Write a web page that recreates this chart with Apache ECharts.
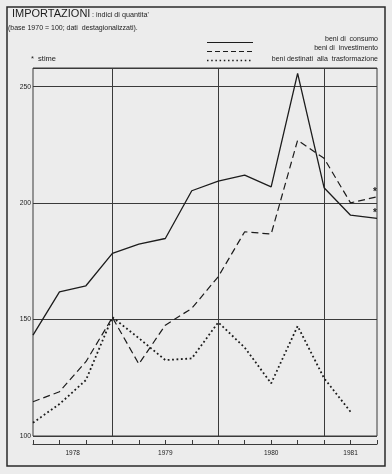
<!DOCTYPE html>
<html>
<head>
<meta charset="utf-8">
<script src="https://cdn.jsdelivr.net/npm/echarts@6/dist/echarts.min.js"></script>
<style>
html,body{margin:0;padding:0;background:#ececec;}
#c{width:392px;height:474px;}
</style>
</head>
<body>
<div id="c"></div>
<script>
// quarterly observations (14 quarters)
var quarters = ['Q1','Q2','Q3','Q4','Q5','Q6','Q7','Q8','Q9','Q10','Q11','Q12','Q13','Q14'];
var beniConsumo = [143.3, 161.9, 164.5, 178.4, 182.4, 184.8, 205.3, 209.4, 212.0, 207.0, 255.7, 206.6, 194.8, 193.4];
var beniInvestimento = [114.7, 119.0, 131.9, 150.9, 130.9, 147.6, 154.8, 168.4, 187.7, 186.7, 227.0, 219.2, 200.1, 202.7];
var beniTrasformazione = [105.7, 113.7, 124.0, 151.0, 142.0, 132.6, 133.3, 148.8, 138.0, 122.6, 147.2, 124.8, 110.4, null];
// estimated (stime) flags
var stimeConsumo = [false,false,false,false,false,false,false,false,false,false,false,false,false,true];
var stimeInvestimento = [false,false,false,false,false,false,false,false,false,false,false,false,false,true];
// year labels and their position on the quarter scale
var yearLabels = ['1978','1979','1980','1981'];
var yearAt = [1.5, 5, 9, 12];
var yTicks = [100, 150, 200, 250];

var halfSteps = [];
for (var i = 0; i <= (quarters.length - 1) * 2; i++) halfSteps.push('');
yearAt.forEach(function (p, k) { halfSteps[Math.round(p * 2)] = yearLabels[k]; });

var ink = '#1c1c1c';
var gridInk = '#3a3a3a';
var font = 'Liberation Sans, Arial, sans-serif';

function withStars(vals, flags) {
  return vals.map(function (v, i) {
    if (flags[i]) {
      return { value: v, label: { show: true, formatter: '*', position: [-4, -10], fontSize: 10, fontWeight: 'bold', color: ink, fontFamily: font } };
    }
    return v;
  });
}

var chart = echarts.init(document.getElementById('c'), null, { renderer: 'canvas' });
chart.setOption({
  backgroundColor: '#ececec',
  animation: false,
  grid: { left: 33, right: 15, top: 68, bottom: 38, show: true, borderColor: gridInk, borderWidth: 1, backgroundColor: 'transparent' },
  xAxis: [
    {
      type: 'category', data: quarters, boundaryGap: false, position: 'bottom', offset: 8,
      axisLine: { show: true, lineStyle: { color: gridInk, width: 1 } },
      axisTick: { show: true, inside: true, length: 4, interval: 0, lineStyle: { color: gridInk } },
      axisLabel: { show: false },
      splitLine: { show: true, interval: function (i) { return i % 4 === 3; }, lineStyle: { color: gridInk, width: 1 } }
    },
    {
      type: 'category', data: halfSteps, boundaryGap: false, position: 'bottom', offset: 8,
      axisLine: { show: false }, axisTick: { show: false },
      axisLabel: { show: true, interval: 0, fontSize: 6.5, color: ink, margin: 6, fontFamily: font },
      splitLine: { show: false }
    }
  ],
  yAxis: {
    type: 'value', min: yTicks[0], max: 258, interval: 50,
    axisLine: { show: false }, axisTick: { show: false },
    axisLabel: { fontSize: 6.8, color: ink, margin: 2, fontFamily: font,
      formatter: function (v) { return yTicks.indexOf(v) >= 0 ? String(v) : ''; } },
    splitLine: { show: true, lineStyle: { color: gridInk, width: 1 } }
  },
  series: [
    { name: 'beni di consumo', type: 'line', data: withStars(beniConsumo, stimeConsumo), xAxisIndex: 0,
      symbol: 'circle', symbolSize: 0, showSymbol: true, lineStyle: { color: ink, width: 1.3, type: 'solid' }, itemStyle: { color: ink } },
    { name: 'beni di investimento', type: 'line', data: withStars(beniInvestimento, stimeInvestimento), xAxisIndex: 0,
      symbol: 'circle', symbolSize: 0, showSymbol: true, lineStyle: { color: ink, width: 1.2, type: [7, 4] }, itemStyle: { color: ink } },
    { name: 'beni destinati alla trasformazione', type: 'line', data: beniTrasformazione, xAxisIndex: 0,
      symbol: 'none', connectNulls: false, lineStyle: { color: ink, width: 1.8, type: [1.8, 2.6] } }
  ],
  graphic: [
    { type: 'rect', shape: { x: 7, y: 7, width: 378, height: 459 }, style: { fill: 'none', stroke: '#2a2a2a', lineWidth: 1.5 }, silent: true },
    { type: 'text', left: 12, top: 8, style: { text: 'IMPORTAZIONI', font: '11px ' + font, fill: ink } },
    { type: 'text', left: 92, top: 12, style: { text: ': indici di quantita\'', font: '7.2px ' + font, fill: ink } },
    { type: 'text', left: 8, top: 25, style: { text: '(base 1970 = 100; dati  destagionalizzati).', font: '7px ' + font, fill: ink } },
    { type: 'line', shape: { x1: 207, y1: 42.5, x2: 253, y2: 42.5 }, style: { stroke: ink, lineWidth: 1.2 } },
    { type: 'line', shape: { x1: 207, y1: 51.5, x2: 253, y2: 51.5 }, style: { stroke: ink, lineWidth: 1.2, lineDash: [5, 3] } },
    { type: 'line', shape: { x1: 207, y1: 60.5, x2: 253, y2: 60.5 }, style: { stroke: ink, lineWidth: 1.6, lineDash: [1.5, 2.7] } },
    { type: 'text', right: 14, top: 36, style: { text: 'beni di  consumo', font: '7px ' + font, fill: ink, textAlign: 'right' } },
    { type: 'text', right: 14, top: 45, style: { text: 'beni di  investimento', font: '7px ' + font, fill: ink, textAlign: 'right' } },
    { type: 'text', right: 14, top: 56, style: { text: 'beni destinati  alla  trasformazione', font: '7px ' + font, fill: ink, textAlign: 'right' } },
    { type: 'text', left: 31, top: 55, style: { text: '*  stime', font: '7.5px ' + font, fill: ink } }
  ]
});
</script>
</body>
</html>
